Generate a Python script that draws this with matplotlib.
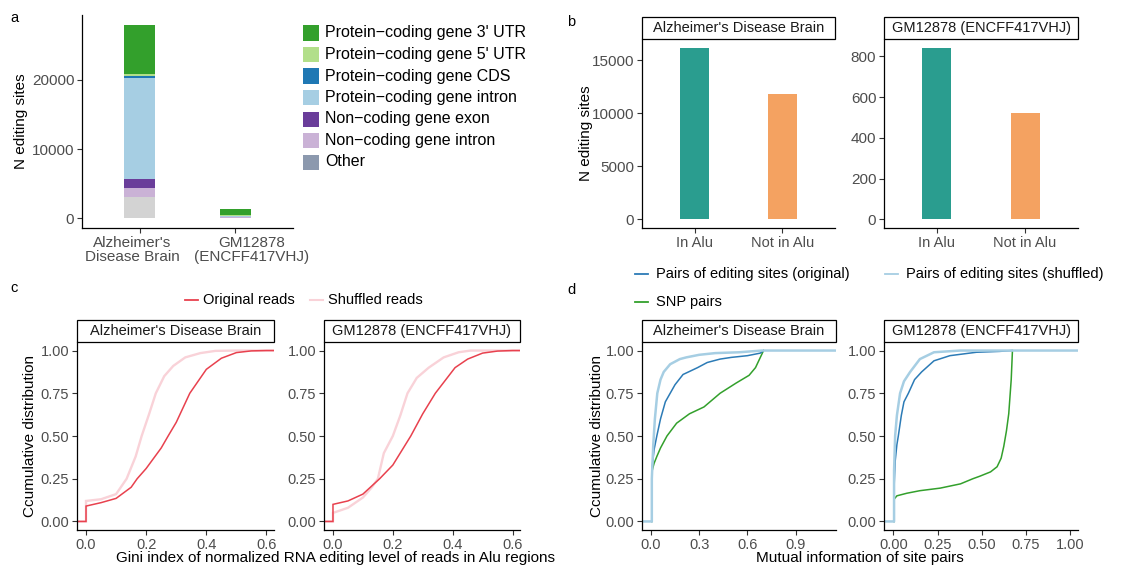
import matplotlib
matplotlib.use("Agg")
import matplotlib.pyplot as plt
import matplotlib.transforms as mtransforms
from matplotlib.patches import Rectangle
from matplotlib.lines import Line2D

plt.rcParams['font.family'] = ['Liberation Sans', 'DejaVu Sans']

W, H = 1130, 567
TICK_C = '#4D4D4D'

# ---- panel a: genomic region of editing sites ----
a_samples = ["Alzheimer's\nDisease Brain", "GM12878\n(ENCFF417VHJ)"]
a_regions = ["Other", "Non\u2212coding gene intron", "Non\u2212coding gene exon",
             "Protein\u2212coding gene intron", "Protein\u2212coding gene CDS",
             "Protein\u2212coding gene 5' UTR", "Protein\u2212coding gene 3' UTR"]
a_counts = {
    "Other": [3100, 100],
    "Non\u2212coding gene intron": [1300, 30],
    "Non\u2212coding gene exon": [1300, 30],
    "Protein\u2212coding gene intron": [14530, 200],
    "Protein\u2212coding gene CDS": [300, 30],
    "Protein\u2212coding gene 5' UTR": [300, 20],
    "Protein\u2212coding gene 3' UTR": [7120, 950],
}
a_bar_colors = ['#D3D3D3', '#CAB2D6', '#6A3D9A', '#A6CEE3', '#1F78B4', '#B2DF8A', '#33A02C']
a_legend_colors = ['#33A02C', '#B2DF8A', '#1F78B4', '#A6CEE3', '#6A3D9A', '#CAB2D6', '#8C99AE']
a_legend_labels = ["Protein\u2212coding gene 3' UTR", "Protein\u2212coding gene 5' UTR",
                   "Protein\u2212coding gene CDS", "Protein\u2212coding gene intron",
                   "Non\u2212coding gene exon", "Non\u2212coding gene intron", "Other"]

# ---- panel b: Alu overlap ----
b_cats = ["In Alu", "Not in Alu"]
b_titles = ["Alzheimer's Disease Brain", "GM12878 (ENCFF417VHJ)"]
b_values = [[16200, 11860], [843, 524]]
b_colors = ['#2A9D8F', '#F4A261']

# ---- panel c: Gini index ECDFs ----
c_orig_x = [[0, 0, 0.05, 0.1, 0.15, 0.17, 0.2, 0.25, 0.273, 0.3, 0.345, 0.4, 0.45, 0.5, 0.55, 0.6],
            [0, 0, 0.05, 0.1, 0.156, 0.2, 0.26, 0.3, 0.342, 0.408, 0.45, 0.5, 0.55, 0.6]]
c_orig_y = [[0, 0.09, 0.11, 0.135, 0.2, 0.25, 0.31, 0.43, 0.5, 0.58, 0.75, 0.89, 0.955, 0.988, 0.998, 1.0],
            [0, 0.10, 0.12, 0.16, 0.25, 0.33, 0.5, 0.63, 0.75, 0.9, 0.95, 0.985, 0.997, 1.0]]
c_shuf_x = [[0, 0, 0.05, 0.1, 0.135, 0.165, 0.185, 0.21, 0.232, 0.26, 0.29, 0.33, 0.38, 0.43, 0.5],
            [0, 0, 0.05, 0.1, 0.13, 0.15, 0.17, 0.2, 0.225, 0.249, 0.28, 0.32, 0.37, 0.42, 0.46]]
c_shuf_y = [[0, 0.12, 0.13, 0.16, 0.25, 0.38, 0.5, 0.63, 0.75, 0.85, 0.91, 0.96, 0.985, 0.998, 1.0],
            [0, 0.05, 0.08, 0.14, 0.2, 0.25, 0.4, 0.5, 0.62, 0.75, 0.84, 0.9, 0.96, 0.99, 1.0]]

# ---- panel d: mutual information ECDFs ----
d_orig_x = [[0.006, 0.006, 0.02, 0.037, 0.06, 0.09, 0.12, 0.15, 0.2, 0.234, 0.29, 0.35, 0.43, 0.5, 0.6, 0.68, 0.70],
            [0.004, 0.004, 0.01, 0.02, 0.028, 0.045, 0.06, 0.085, 0.12, 0.16, 0.23, 0.32, 0.47, 0.6, 0.67]]
d_orig_y = [[0, 0.3, 0.42, 0.5, 0.6, 0.7, 0.75, 0.8, 0.86, 0.875, 0.9, 0.93, 0.95, 0.96, 0.97, 0.985, 1.0],
            [0, 0.2, 0.35, 0.45, 0.5, 0.62, 0.7, 0.75, 0.83, 0.875, 0.94, 0.97, 0.99, 0.995, 1.0]]
d_shuf_x = [[0.006, 0.006, 0.015, 0.025, 0.04, 0.06, 0.08, 0.12, 0.18, 0.22, 0.3, 0.4, 0.55, 0.69],
            [0.004, 0.004, 0.01, 0.02, 0.038, 0.06, 0.095, 0.15, 0.23, 0.38]]
d_shuf_y = [[0, 0.25, 0.45, 0.6, 0.75, 0.83, 0.875, 0.92, 0.95, 0.96, 0.975, 0.985, 0.99, 1.0],
            [0, 0.3, 0.5, 0.62, 0.75, 0.82, 0.875, 0.95, 0.99, 1.0]]
d_snp_x = [[0.006, 0.006, 0.02, 0.037, 0.06, 0.1, 0.16, 0.24, 0.33, 0.43, 0.53, 0.61, 0.65, 0.68, 0.70],
           [0.004, 0.004, 0.02, 0.076, 0.15, 0.265, 0.38, 0.45, 0.49, 0.55, 0.587, 0.61, 0.625, 0.64, 0.653, 0.667, 0.674]]
d_snp_y = [[0, 0.29, 0.34, 0.38, 0.43, 0.5, 0.575, 0.63, 0.67, 0.75, 0.81, 0.855, 0.9, 0.96, 1.0],
           [0, 0.13, 0.15, 0.165, 0.18, 0.195, 0.22, 0.25, 0.265, 0.29, 0.32, 0.37, 0.44, 0.53, 0.63, 0.83, 1.0]]

fig = plt.figure(figsize=(W / 100, H / 100), dpi=100)


def ax_at(x0, y0, x1, y1):
    return fig.add_axes([x0 / W, 1 - y1 / H, (x1 - x0) / W, (y1 - y0) / H])


def style(ax, size):
    for s in ['top', 'right']:
        ax.spines[s].set_visible(False)
    for s in ['left', 'bottom']:
        ax.spines[s].set_linewidth(0.9)
        ax.spines[s].set_color('black')
    ax.tick_params(length=3.5, width=0.8, color='#333333', labelsize=size,
                   labelcolor=TICK_C, pad=2)


def strip(ax, text, px_h):
    h = 22 / px_h
    ax.add_patch(Rectangle((0, 1), 1, h, transform=ax.transAxes, clip_on=False,
                           fc='white', ec='black', lw=0.9))
    ax.text(0.5, 1 + h / 2, text, transform=ax.transAxes, ha='center', va='center',
            fontsize=10.5, color='#1A1A1A')


def fx(x):
    return x / W


def fy(y):
    return 1 - y / H


def ylab(x, y, text):
    fig.text(fx(x), fy(y), text, rotation=90, fontsize=11, ha='center', va='center')


# ---------- a ----------
ax = ax_at(82, 15, 293, 228)
style(ax, 11)
bottom = [0, 0]
for reg, col in zip(a_regions, a_bar_colors):
    vals = a_counts[reg]
    ax.bar([1, 2], vals, bottom=bottom, width=0.32, color=col, linewidth=0)
    bottom = [b + v for b, v in zip(bottom, vals)]
ax.set_xlim(0.4, 2.6)
ax.set_ylim(-1395, 29350)
ax.set_yticks([0, 10000, 20000])
ax.set_xticks([1, 2])
ax.set_xticklabels(a_samples, fontsize=11, linespacing=1.05)
for lab, dx in zip(ax.get_xticklabels(), [-0.07, 0.16]):
    lab.set_transform(lab.get_transform() +
                      mtransforms.ScaledTranslation(dx, 0, fig.dpi_scale_trans))
ylab(21, 121, "N editing sites")

for i, (lab, col) in enumerate(zip(a_legend_labels, a_legend_colors)):
    yc = 33 + i * 21.5
    fig.patches.append(Rectangle((fx(303), fy(yc + 7.5)), 16 / W, 15 / H,
                                 transform=fig.transFigure, fc=col, ec='none'))
    fig.text(fx(325), fy(yc), lab, fontsize=11.5, va='center', ha='left')

# ---------- b ----------
for k, (x0, x1) in enumerate([(642, 835), (884, 1078)]):
    ax = ax_at(x0, 39, x1, 228)
    style(ax, 11)
    ax.bar([1, 2], b_values[k], width=0.33, color=b_colors, linewidth=0)
    ax.set_xlim(0.4, 2.6)
    top = max(b_values[k]) * 1.05
    ax.set_ylim(-max(b_values[k]) * 0.05, top)
    ax.set_xticks([1, 2])
    ax.set_xticklabels(b_cats, fontsize=10.5)
    if k == 0:
        ax.set_yticks([0, 5000, 10000, 15000])
    else:
        ax.set_yticks([0, 200, 400, 600, 800])
    strip(ax, b_titles[k], 189)
ylab(586, 133, "N editing sites")

# ---------- c ----------
for k, (x0, x1) in enumerate([(77, 274), (324, 520)]):
    ax = ax_at(x0, 342, x1, 530)
    style(ax, 10.5)
    ax.set_xlim(-0.03, 0.625)
    ax.set_ylim(-0.05, 1.05)
    xl = ax.get_xlim()
    ax.plot([xl[0]] + c_shuf_x[k] + [xl[1]], [0] + c_shuf_y[k] + [1],
            color='#F9D2D8', lw=1.7, solid_joinstyle='miter')
    ax.plot([xl[0]] + c_orig_x[k] + [xl[1]], [0] + c_orig_y[k] + [1],
            color='#E8414E', lw=1.1, solid_joinstyle='miter')
    ax.set_xticks([0, 0.2, 0.4, 0.6])
    ax.set_xticklabels(["0.0", "0.2", "0.4", "0.6"])
    ax.set_yticks([0, 0.25, 0.5, 0.75, 1.0])
    ax.set_yticklabels(["0.00", "0.25", "0.50", "0.75", "1.00"])
    strip(ax, b_titles[k], 188)
ylab(30, 436, "Ccumulative distribution")

fig.text(fx(335), fy(558), "Gini index of normalized RNA editing level of reads in Alu regions",
         fontsize=11, ha='center', va='center')
fig.lines.append(Line2D([fx(185), fx(198)], [fy(300), fy(300)], color='#E8414E', lw=1.3,
                        transform=fig.transFigure))
fig.text(fx(203), fy(300), "Original reads", fontsize=10.5, va='center')
fig.lines.append(Line2D([fx(310), fx(323)], [fy(300), fy(300)], color='#F9D2D8', lw=1.5,
                        transform=fig.transFigure))
fig.text(fx(328), fy(300), "Shuffled reads", fontsize=10.5, va='center')

# ---------- d ----------
d_lims = [(-0.055, 1.15), (-0.053, 1.045)]
d_ticks = [[0, 0.3, 0.6, 0.9], [0, 0.25, 0.5, 0.75, 1.0]]
d_labels = [["0.0", "0.3", "0.6", "0.9"], ["0.00", "0.25", "0.50", "0.75", "1.00"]]
for k, (x0, x1) in enumerate([(642, 836), (884, 1078)]):
    ax = ax_at(x0, 342, x1, 530)
    style(ax, 10.5)
    ax.set_xlim(*d_lims[k])
    ax.set_ylim(-0.05, 1.05)
    xl = ax.get_xlim()
    ax.plot(d_snp_x[k], d_snp_y[k], color='#33A02C', lw=1.1)
    ax.plot(d_orig_x[k], d_orig_y[k], color='#2C7BB6', lw=1.1)
    ax.plot([xl[0]] + d_shuf_x[k] + [xl[1]], [0] + d_shuf_y[k] + [1],
            color='#A6CEE3', lw=1.8)
    ax.set_xticks(d_ticks[k])
    ax.set_xticklabels(d_labels[k])
    ax.set_yticks([0, 0.25, 0.5, 0.75, 1.0])
    ax.set_yticklabels(["0.00", "0.25", "0.50", "0.75", "1.00"])
    strip(ax, b_titles[k], 188)
ylab(597, 436, "Ccumulative distribution")

fig.text(fx(860), fy(558), "Mutual information of site pairs", fontsize=11,
         ha='center', va='center')
for (lx, ly, col, lab) in [(635, 274, '#2C7BB6', "Pairs of editing sites (original)"),
                           (885, 274, '#A6CEE3', "Pairs of editing sites (shuffled)"),
                           (635, 302, '#33A02C', "SNP pairs")]:
    fig.lines.append(Line2D([fx(lx), fx(lx + 13)], [fy(ly), fy(ly)], color=col, lw=1.3,
                            transform=fig.transFigure))
    fig.text(fx(lx + 21), fy(ly), lab, fontsize=10.5, va='center')

# panel tags
for tag, x, y in [("a", 10, 18), ("b", 567, 22), ("c", 10, 288), ("d", 567, 290)]:
    fig.text(fx(x), fy(y), tag, fontsize=10.5, ha='left', va='center')

fig.savefig("out.png", dpi=100)
